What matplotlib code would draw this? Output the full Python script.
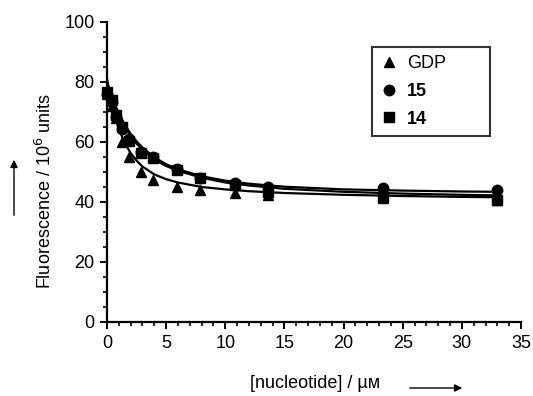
import numpy as np
import matplotlib
matplotlib.use("Agg")
import matplotlib.pyplot as plt

plt.rcParams['font.family'] = ['Liberation Sans', 'DejaVu Sans']

# ---------- datos ----------
conc = [0, 0.4, 0.8, 1.3, 1.9, 2.9, 3.9, 5.9, 7.9, 10.8, 13.6, 23.3, 33]
gdp = [76, 72, 68, 60, 55, 50, 47.3, 45, 44, 43.1, 42.5, 41.5, 40.7]
c15 = [76, 73.5, 68.5, 64.5, 61, 56.8, 55, 51, 48, 46.5, 45, 44.6, 44]
c14 = [76.7, 74, 69, 65, 60.5, 56.2, 54.7, 50.7, 48, 45.7, 43.4, 41.8, 40.7]

# curvas de ajuste
fit_x = [0, 0.25, 0.5, 0.75, 1, 1.5, 2, 2.5, 3, 4, 5, 6, 8, 10, 12, 15, 20, 25, 30, 33]
fit_gdp = [81, 75.5, 71, 67.3, 64.3, 59.7, 56.3, 53.8, 51.8, 49.2, 47.6, 46.5, 45,
           44.2, 43.6, 43, 42.4, 42, 41.7, 41.6]
fit_15 = [80, 77, 74.3, 71.8, 69.6, 65.8, 62.7, 60.2, 58.1, 54.9, 52.6, 50.9, 48.6,
          47.1, 46.1, 45.1, 44.2, 43.8, 43.5, 43.4]
fit_14 = [80, 76.8, 73.9, 71.3, 69, 65.1, 62, 59.5, 57.4, 54.2, 52, 50.4, 48.1,
          46.5, 45.5, 44.4, 43.4, 42.8, 42.4, 42.2]

fig = plt.figure(figsize=(5.33, 3.96), dpi=100)
ax = fig.add_axes([107/533, 1 - 322/396, 414/533, 300/396])

lw = 1.6
ax.plot(fit_x, fit_gdp, color='black', lw=lw)
ax.plot(fit_x, fit_15, color='black', lw=lw)
ax.plot(fit_x, fit_14, color='black', lw=lw)

ax.plot(conc, gdp, '^', color='black', ms=7.5, ls='none', label='GDP', clip_on=False)
ax.plot(conc, c15, 'o', color='black', ms=7.5, ls='none', label='15', clip_on=False)
ax.plot(conc, c14, 's', color='black', ms=7.5, ls='none', label='14', clip_on=False)

ax.set_xlim(0, 35)
ax.set_ylim(0, 100)
ax.set_xticks(np.arange(0, 36, 5))
ax.set_xticks(np.arange(0, 36, 1), minor=True)
ax.set_yticks(np.arange(0, 101, 20))
ax.set_yticks(np.arange(0, 101, 5), minor=True)

for s in ['top', 'right']:
    ax.spines[s].set_visible(False)
for s in ['left', 'bottom']:
    ax.spines[s].set_linewidth(1.6)

ax.tick_params(which='major', direction='out', length=5, width=1.4, labelsize=13, pad=4)
ax.tick_params(which='minor', direction='out', length=3, width=1.2)

leg = ax.legend(loc='upper left', bbox_to_anchor=(0.64, 0.605, 0.285, 0.312),
                mode='expand', fontsize=13, frameon=True, fancybox=False,
                handlelength=1.0, handletextpad=0.5, labelspacing=0.6,
                borderpad=0.45, borderaxespad=0)
leg.get_frame().set_edgecolor('black')
leg.get_frame().set_linewidth(1.5)
for t in leg.get_texts()[1:]:
    t.set_fontweight('bold')

# etiquetas y flechas
fig.text(45/533, 1 - 191/396, 'Fluorescence / 10$^6$ units', rotation=90,
         ha='center', va='center', fontsize=13)
fig.text(315/533, 1 - 383/396, '[nucleotide] / µᴍ', ha='center', va='center', fontsize=13)
fig.add_artist(matplotlib.patches.FancyArrowPatch(
    (14/533, 1 - 218/396), (14/533, 1 - 157/396), transform=fig.transFigure,
    arrowstyle='-|>', mutation_scale=11, color='black', lw=1))
fig.add_artist(matplotlib.patches.FancyArrowPatch(
    (407/533, 1 - 388/396), (465/533, 1 - 388/396), transform=fig.transFigure,
    arrowstyle='-|>', mutation_scale=11, color='black', lw=1))

plt.savefig('out.png', dpi=100)
